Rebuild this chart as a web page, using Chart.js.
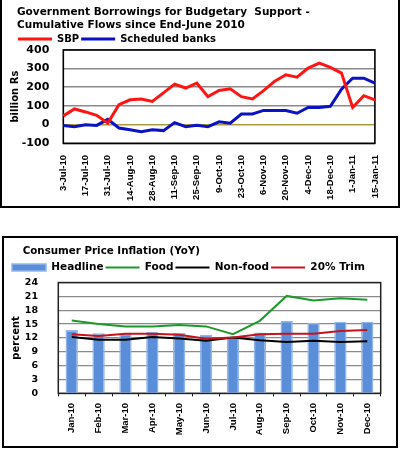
<!DOCTYPE html>
<html><head><meta charset="utf-8">
<script src="https://cdn.jsdelivr.net/npm/chart.js@4.4.1/dist/chart.umd.min.js"></script>
<style>
html,body{margin:0;padding:0;background:#fff;width:400px;height:450px;overflow:hidden;position:relative}
.box{position:absolute;border:2px solid #000;background:#fff}
#b1{left:0;top:-2px;width:396px;height:206px}
#b2{left:2px;top:236px;width:392px;height:208px}
canvas{display:block}
</style></head><body>
<div class="box" id="b1"><canvas id="c1"></canvas></div>
<div class="box" id="b2"><canvas id="c2"></canvas></div>
<script>
// ---- Chart 1 data: Government borrowings (billion Rs), weekly ----
const weekLabels = ['3-Jul-10','10-Jul-10','17-Jul-10','24-Jul-10','31-Jul-10','7-Aug-10','14-Aug-10','21-Aug-10','28-Aug-10','4-Sep-10','11-Sep-10','18-Sep-10','25-Sep-10','2-Oct-10','9-Oct-10','16-Oct-10','23-Oct-10','30-Oct-10','6-Nov-10','13-Nov-10','20-Nov-10','27-Nov-10','4-Dec-10','11-Dec-10','18-Dec-10','25-Dec-10','1-Jan-11','8-Jan-11','15-Jan-11'];
const sbpValues = [47,84,68,50,8,107,133,137,124,170,217,196,222,150,183,192,150,138,182,233,267,254,303,329,307,276,92,155,133];
const bankValues = [-5,-11,-1,-4,28,-18,-27,-38,-27,-32,11,-11,-4,-11,15,8,57,57,76,76,76,61,92,92,98,190,249,249,222];
const title1 = ['Government Borrowings for Budgetary  Support -','Cumulative Flows since End-June 2010'];

// ---- Chart 2 data: Consumer Price Inflation (YoY, percent) ----
const months = ['Jan-10','Feb-10','Mar-10','Apr-10','May-10','Jun-10','Jul-10','Aug-10','Sep-10','Oct-10','Nov-10','Dec-10'];
const headline = [13.7,13.0,12.9,13.3,13.1,12.7,12.3,13.2,15.7,15.3,15.5,15.5];
const food = [15.8,15.0,14.5,14.5,14.8,14.5,12.8,15.7,21.1,20.1,20.6,20.3];
const nonFood = [12.2,11.6,11.6,12.2,11.9,11.4,12.1,11.5,11.1,11.4,11.1,11.3];
const trim20 = [12.8,12.4,12.9,12.9,12.7,11.8,12.1,12.8,12.9,12.9,13.5,13.7];
const title2 = 'Consumer Price Inflation (YoY)';

Chart.defaults.font.family = 'DejaVu Sans';
Chart.defaults.font.weight = 'bold';
Chart.defaults.color = '#000';

const frame = {
  id: 'frame',
  beforeDatasetsDraw(chart, args, opts) {
    const {ctx, chartArea: a} = chart;
    ctx.save();
    ctx.strokeStyle = opts.color || '#000';
    ctx.lineWidth = opts.width || 1.5;
    ctx.strokeRect(a.left, a.top, a.right - a.left, a.bottom - a.top);
    ctx.restore();
  }
};
const tweak = {
  id: 'tweak',
  beforeLayout(chart, args, opts) {
    const lg = chart.legend;
    if (lg && !lg._tw) {
      const f = lg.fit;
      lg.fit = function () { f.call(this); this.height += (opts.legendDH || 0); };
      lg._tw = true;
    }
  },
  afterLayout(chart, args, opts) {
    const t = chart.titleBlock;
    if (t && opts.titleDX) { t.left += opts.titleDX; t.right += opts.titleDX; }
  }
};

new Chart(document.getElementById('c1'), {
  type: 'line',
  data: {
    labels: weekLabels,
    datasets: [
      {label: 'SBP', data: sbpValues, borderColor: '#ff1414', backgroundColor: '#ff1414',
       pointBorderColor: '#ff1414', pointBackgroundColor: '#ff1414', pointBorderWidth: 3,
       borderWidth: 3, pointRadius: 0, pointHoverRadius: 0, pointStyle: 'line', tension: 0},
      {label: 'Scheduled banks', data: bankValues, borderColor: '#0a12c4', backgroundColor: '#0a12c4',
       pointBorderColor: '#0a12c4', pointBackgroundColor: '#0a12c4', pointBorderWidth: 3,
       borderWidth: 3, pointRadius: 0, pointHoverRadius: 0, pointStyle: 'line', tension: 0}
    ]
  },
  options: {
    responsive: true, maintainAspectRatio: false, animation: false,
    layout: {padding: {left: 14, right: 21, top: 5.4, bottom: 0}},
    plugins: {
      title: {display: true, text: title1, align: 'start', color: '#000',
              font: {size: 10.5, weight: 'bold', lineHeight: 1.25}, padding: {top: 0, bottom: 0.3}},
      legend: {display: true, align: 'start',
               labels: {usePointStyle: true, pointStyleWidth: 34, boxHeight: 10, padding: 2,
                        color: '#000', font: {size: 10, weight: 'bold'}}},
      tooltip: {enabled: false},
      tweak: {legendDH: -4, titleDX: 1},
      frame: {color: '#000', width: 1.6}
    },
    scales: {
      x: {
        type: 'category', offset: false,
        grid: {display: false, drawTicks: false},
        border: {display: false},
        ticks: {autoSkip: false, minRotation: 90, maxRotation: 90, padding: 11.7,
                font: {family: 'Liberation Sans', size: 9.5, weight: 'bold'},
                callback: function (v, i) { return i % 2 === 0 ? this.getLabelForValue(v) : ''; }},
        afterFit(s) { s.height = 62.7; }
      },
      y: {
        min: -100, max: 400,
        ticks: {stepSize: 100, autoSkip: false, padding: 14, font: {size: 11, weight: 'bold'}},
        grid: {drawTicks: false, lineWidth: 1.6,
               color: (c) => (c.tick && c.tick.value === 0) ? '#b09a40' : '#8a8a8a'},
        border: {display: false},
        title: {display: true, text: 'billion Rs', font: {size: 10, weight: 'bold'}, padding: {top: -6.5, bottom: 0}},
        afterFit(s) { s.width = 47.3; }
      }
    }
  },
  plugins: [frame, tweak]
});

new Chart(document.getElementById('c2'), {
  type: 'bar',
  data: {
    labels: months,
    datasets: [
      {type: 'bar', label: 'Headline', data: headline, backgroundColor: '#5a8ed8', borderColor: '#92b6ea',
       borderWidth: 1.5, barPercentage: 0.46, categoryPercentage: 1, order: 5, pointStyle: 'rect'},
      {type: 'line', label: 'Food', data: food, borderColor: '#1d9a2b', backgroundColor: '#1d9a2b',
       pointBorderColor: '#1d9a2b', pointBorderWidth: 2, borderWidth: 2, pointRadius: 0, pointHoverRadius: 0,
       pointStyle: 'line', tension: 0, order: 3},
      {type: 'line', label: 'Non-food', data: nonFood, borderColor: '#000000', backgroundColor: '#000000',
       pointBorderColor: '#000000', pointBorderWidth: 2, borderWidth: 2, pointRadius: 0, pointHoverRadius: 0,
       pointStyle: 'line', tension: 0, order: 2},
      {type: 'line', label: '20% Trim', data: trim20, borderColor: '#c4141c', backgroundColor: '#c4141c',
       pointBorderColor: '#c4141c', pointBorderWidth: 2, borderWidth: 2, pointRadius: 0, pointHoverRadius: 0,
       pointStyle: 'line', tension: 0, order: 1}
    ]
  },
  options: {
    responsive: true, maintainAspectRatio: false, animation: false,
    layout: {padding: {left: 6, right: 15.3, top: 7.5, bottom: 0}},
    plugins: {
      title: {display: true, text: title2, align: 'start', color: '#000',
              font: {size: 10.3, weight: 'bold', lineHeight: 1.2}, padding: {top: 0, bottom: 2.5}},
      legend: {display: true, align: 'start',
               labels: {usePointStyle: true, pointStyleWidth: 34, boxHeight: 7, padding: 2,
                        color: '#000', font: {size: 10.5, weight: 'bold'},
                        sort: (a, b) => a.datasetIndex - b.datasetIndex}},
      tooltip: {enabled: false},
      tweak: {legendDH: -0.3, titleDX: 12.7},
      frame: {color: '#222', width: 1.5}
    },
    scales: {
      x: {
        grid: {display: true, drawOnChartArea: false, drawTicks: true, tickLength: 3, color: '#000', lineWidth: 1, offset: true},
        border: {display: false},
        ticks: {autoSkip: false, minRotation: 90, maxRotation: 90, padding: 6.7,
                font: {family: 'Liberation Sans', size: 9.5, weight: 'bold'}},
        afterFit(s) { s.height = 52.7; }
      },
      y: {
        min: 0, max: 24,
        ticks: {stepSize: 3, autoSkip: false, padding: 20.3, font: {size: 9.5, weight: 'bold'}},
        grid: {drawTicks: false, color: '#8a8a8a', lineWidth: 1.3},
        border: {display: false},
        title: {display: true, text: 'percent', font: {size: 10, weight: 'bold'}, padding: {top: 0, bottom: 0}},
        afterFit(s) { s.width = 48.3; }
      }
    }
  },
  plugins: [frame, tweak]
});
</script></body></html>
